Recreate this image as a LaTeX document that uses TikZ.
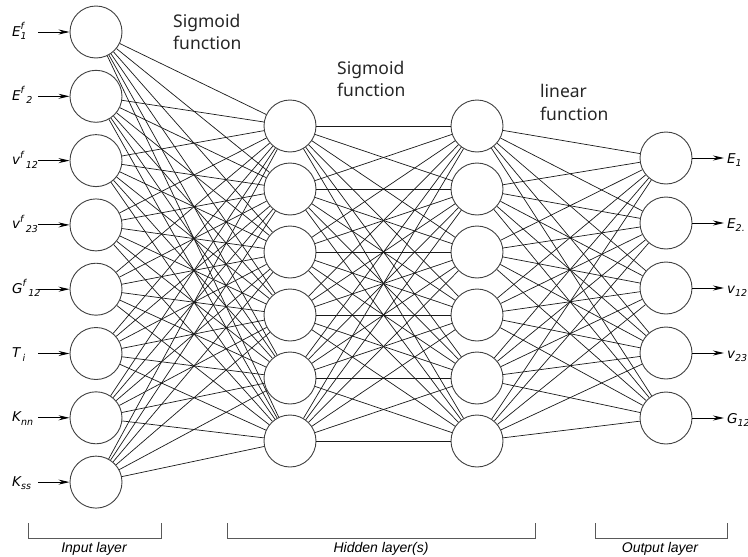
\documentclass[tikz,border=0pt]{standalone}
\usepackage{fontspec}
\setmainfont{Noto Sans}
\newfontfamily\lblfont{DejaVu Sans}[ItalicFont={DejaVu Sans Oblique}]
\newfontfamily\capfont{Liberation Sans}
\usetikzlibrary{arrows.meta}

% raised / lowered small indices for the variable labels
\newcommand\lsup[1]{\raisebox{6.5pt}{\fontsize{9.5}{10}\selectfont #1}}
\newcommand\lsub[1]{\raisebox{-3.5pt}{\fontsize{9.5}{10}\selectfont #1}}

\begin{document}
\begin{tikzpicture}[x=1pt,y=-1pt,
  neuron/.style={circle, draw=black!75, line width=0.9pt, fill=white,
                 minimum size=52pt, inner sep=0pt},
  edge/.style={draw=black!90, line width=0.7pt},
  ioarrow/.style={draw=black, line width=0.9pt, -{Stealth[length=11pt,width=5pt]}},
  lbl/.style={font=\lblfont\itshape\fontsize{13.5}{14}\selectfont, inner sep=0pt},
  fnlbl/.style={font=\fontsize{17.5}{20}\selectfont, inner sep=0pt,
                anchor=base west, text=black!85},
  layerlbl/.style={font=\capfont\itshape\fontsize{14}{16}\selectfont,
                   inner sep=0pt, anchor=base},
  bracket/.style={draw=black!65, line width=1pt}
]
\useasboundingbox (0,0) rectangle (748,557);

% neurons
\foreach \k in {1,...,8}
  \node[neuron] (i\k) at (96,{32+64.3*(\k-1)}) {};
\foreach \k in {1,...,6}
  \node[neuron] (h\k) at (290,{126+63*(\k-1)}) {};
\foreach \k in {1,...,6}
  \node[neuron] (g\k) at (477,{126+63*(\k-1)}) {};
\foreach \k in {1,...,5}
  \node[neuron] (o\k) at (666,{158+65*(\k-1)}) {};

% full connections between consecutive layers
\foreach \a in {1,...,8}
  \foreach \b in {1,...,6}
    \draw[edge] (i\a) -- (h\b);
\foreach \a in {1,...,6}
  \foreach \b in {1,...,6}
    \draw[edge] (h\a) -- (g\b);
\foreach \a in {1,...,6}
  \foreach \b in {1,...,5}
    \draw[edge] (g\a) -- (o\b);

% inputs
\foreach \k/\t in {1/{E\rlap{\lsup{f}}\lsub{1}},
                   2/{E\lsup{f}\,\lsub{2}},
                   3/{v\lsup{f}\,\lsub{12}},
                   4/{v\lsup{f}\,\lsub{23}},
                   5/{G\lsup{f}\,\lsub{12}},
                   6/{T\,\lsub{i}},
                   7/{K\lsub{nn}},
                   8/{K\lsub{ss}}}{
  \coordinate (ia\k) at (38,{32+64.3*(\k-1)});
  \draw[ioarrow] (ia\k) -- (i\k);
  \path (ia\k) ++(-26,4) node[lbl, anchor=base west] (il\k) {\t};
}

% outputs
\foreach \k/\t in {1/{E\lsub{1}}, 2/{E\lsub{2.}}, 3/{v\lsub{12}},
                   4/{v\lsub{23}}, 5/{G\lsub{12}}}{
  \coordinate (oa\k) at (724,{158+65*(\k-1)});
  \draw[ioarrow] (o\k) -- (oa\k);
  \path (oa\k) ++(3,5) node[lbl, anchor=base west] (ol\k) {\t};
}

% activation function captions
\node[fnlbl] (f1a) at (173,27) {Sigmoid};
\node[fnlbl] (f1b) at (173,49) {function};
\node[fnlbl] (f2a) at (337,74) {Sigmoid};
\node[fnlbl] (f2b) at (337,96) {function};
\node[fnlbl] (f3a) at (540,97) {linear};
\node[fnlbl] (f3b) at (540,120) {function};

% layer brackets
\draw[bracket] (28,523) -- (28,538) -- (161,538) -- (161,523);
\draw[bracket] (227,523) -- (227,538) -- (535,538) -- (535,523);
\draw[bracket] (595,523) -- (595,538) -- (727,538) -- (727,523);
\node[layerlbl] (li) at (94,552) {Input layer};
\node[layerlbl] (lh) at (381,552) {Hidden layer(s)};
\node[layerlbl] (lo) at (660,552) {Output layer};
\end{tikzpicture}
\end{document}
